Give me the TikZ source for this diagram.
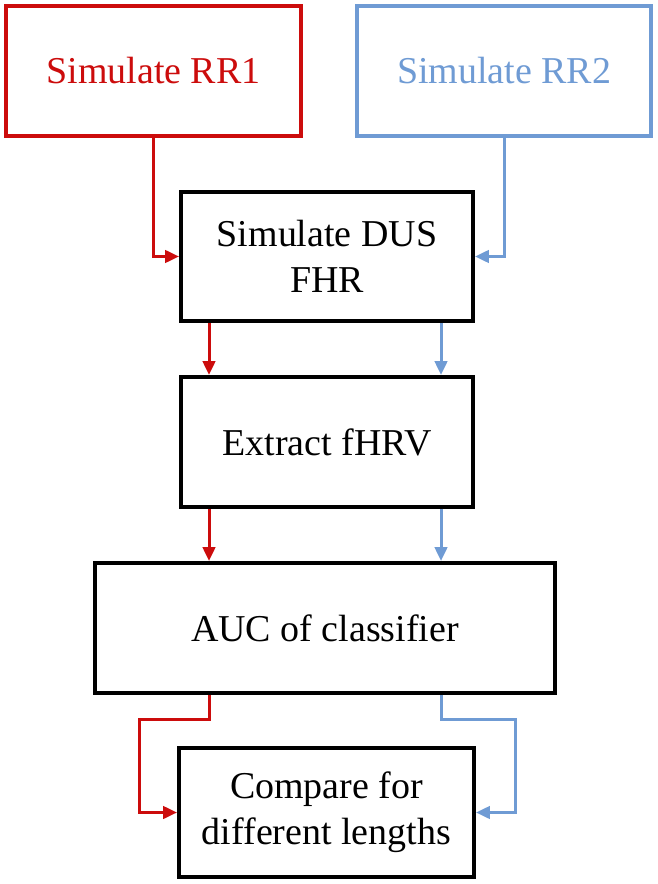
\documentclass[tikz,border=0pt]{standalone}
\usepackage{fontspec}
\setmainfont{Liberation Serif}
\usepackage{xcolor}
\usepackage{tikz}
\usetikzlibrary{arrows.meta}
\usetikzlibrary{positioning}
\definecolor{rrred}{RGB}{204,12,12}
\definecolor{rrblue}{RGB}{111,155,212}

\begin{document}
\begin{tikzpicture}[x=0.02cm,y=-0.02cm,
        box/.style={draw,line width=0.08cm,align=center,inner sep=0pt,
            font=\fontsize{21.6}{26}\selectfont,minimum height=2.6cm},
        redline/.style={rrred,line width=0.06cm,-{Triangle[length=0.28cm,width=0.25cm]}},
        blueline/.style={rrblue,line width=0.06cm,-{Triangle[length=0.28cm,width=0.25cm]}}]
        \useasboundingbox (0,0) rectangle (657,884);
        % the two inputs
        \node[box,draw=rrred,text=rrred,minimum width=5.9cm] (rrone) at (153.5,71) {Simulate RR1};
        \node[box,draw=rrblue,text=rrblue,minimum width=5.9cm] (rrtwo) at (504,71) {Simulate RR2};
        % processing steps
        \node[box,minimum width=5.84cm] (dus) at (327,256.5) {Simulate DUS\\FHR};
        \node[box,minimum width=5.84cm] (extract) at (327,442) {Extract fHRV};
        \node[box,minimum width=9.2cm] (auc) at (325,628) {AUC of classifier};
        \node[box,minimum width=5.9cm] (compare) at (326.5,812.5) {Compare for\\different lengths};
        \coordinate (rx) at (209,0);
        \coordinate (bx) at (441,0);
        \coordinate (rbend) at (139,719);
        \coordinate (bbend) at (515,719);
        \draw[redline] (rrone.south) |- (dus.west);
        \draw[blueline] (rrtwo.south) |- (dus.east);
        \draw[redline] (dus.south -| rx) -- (extract.north -| rx);
        \draw[blueline] (dus.south -| bx) -- (extract.north -| bx);
        \draw[redline] (extract.south -| rx) -- (auc.north -| rx);
        \draw[blueline] (extract.south -| bx) -- (auc.north -| bx);
        \draw[redline] (auc.south -| rx) |- (rbend) |- (compare.west);
        \draw[blueline] (auc.south -| bx) |- (bbend) |- (compare.east);
    \end{tikzpicture}
\end{document}
